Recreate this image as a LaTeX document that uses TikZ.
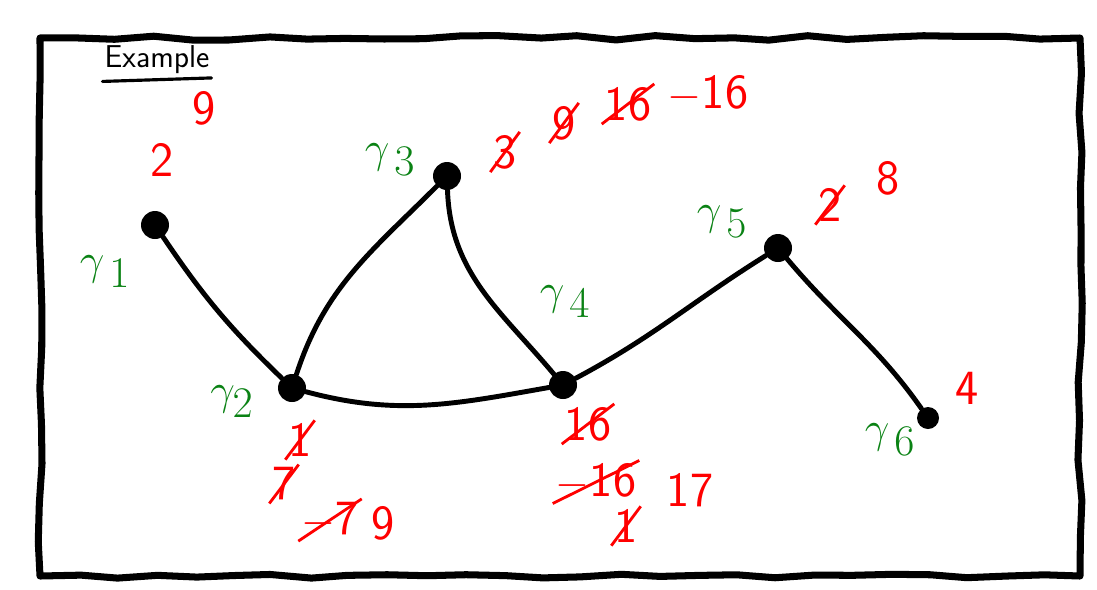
\documentclass[tikz,border=0pt]{standalone}
\usetikzlibrary{shapes.misc,decorations.pathmorphing}
\definecolor{inkgreen}{RGB}{10,130,20}
\definecolor{inkred}{RGB}{255,0,0}
\tikzset{
  vertex/.style={circle, fill=black, inner sep=0pt, minimum size=0.56cm},
  edge/.style={line width=2.8pt, line cap=round},
  gname/.style={text=inkgreen, font=\fontsize{38}{40}\selectfont, inner sep=0pt},
  cost/.style={text=inkred, font=\sffamily\fontsize{28}{30}\selectfont, inner sep=1pt},
  oldcost/.style={cost, strike out, draw=inkred, line width=1.6pt},
}
\begin{document}
\begin{tikzpicture}[x=0.02cm, y=-0.02cm]
    \useasboundingbox (0,0) rectangle (1097,589);
    \pgfmathsetseed{11}

    % hand drawn frame
    \draw[line width=4pt, line join=round, decorate,
          decoration={random steps, segment length=22pt, amplitude=1.4pt}]
        (40,38) rectangle (1080,576);

    % title
    \node[font=\sffamily\fontsize{18}{20}\selectfont, inner sep=1pt] (title) at (157,60) {Example};
    \draw[line width=1.8pt, line cap=round] ([yshift=-3pt]title.south west) -- ([yshift=-1pt]title.south east);

    % vertices
    \node[vertex] (v1) at (155,225) {};
    \node[vertex] (v2) at (292,388) {};
    \node[vertex] (v3) at (447,176) {};
    \node[vertex] (v4) at (563,385) {};
    \node[vertex] (v5) at (778,248) {};
    \node[vertex, minimum size=0.44cm] (v6) at (928,418) {};

    % edges
    \draw[edge] (v1) to[bend right=6] (v2);
    \draw[edge] (v2) to[out=72, in=-135] (v3);
    \draw[edge] (v3) to[out=-88, in=130] (v4);
    \draw[edge] (v2) to[out=-15, in=190] (v4);
    \draw[edge] (v4) to[out=28, in=-148] (v5);
    \draw[edge] (v5) to[out=-50, in=125] (v6);

    % vertex names
    \node[gname] (g1) at (105,272) {$\gamma_{\,1}$};
    \node[gname] (g2) at (232,402) {$\gamma_2$};
    \node[gname] (g3) at (390,160) {$\gamma_{\,3}$};
    \node[gname] (g4) at (565,302) {$\gamma_{\,4}$};
    \node[gname] (g5) at (722,222) {$\gamma_{\,5}$};
    \node[gname] (g6) at (890,440) {$\gamma_{\,6}$};

    % costs at v1
    \node[cost] (c1a) at (162,160) {2};
    \node[cost] (c1b) at (204,108) {9};

    % costs at v2
    \node[oldcost] (c2a) at (300,440) {1};
    \node[oldcost] (c2b) at (284,484) {7};
    \node[oldcost] (c2c) at (330,520) {$-$7};
    \node[cost] (c2d) at (383,523) {9};

    % costs at v3
    \node[oldcost] (c3a) at (505,152) {3};
    \node[oldcost] (c3b) at (564,123) {9};
    \node[oldcost] (c3c) at (628,104) {16};
    \node[cost] (c3d) at (708,94) {$-$16};

    % costs at v4
    \node[oldcost] (c4a) at (588,424) {16};
    \node[oldcost] (c4b) at (596,482) {$-$16};
    \node[oldcost] (c4c) at (626,526) {1};
    \node[cost] (c4d) at (690,490) {17};

    % costs at v5
    \node[oldcost] (c5a) at (830,205) {2};
    \node[cost] (c5b) at (888,178) {8};

    % cost at v6
    \node[cost] (c6a) at (967,388) {4};
\end{tikzpicture}
\end{document}
